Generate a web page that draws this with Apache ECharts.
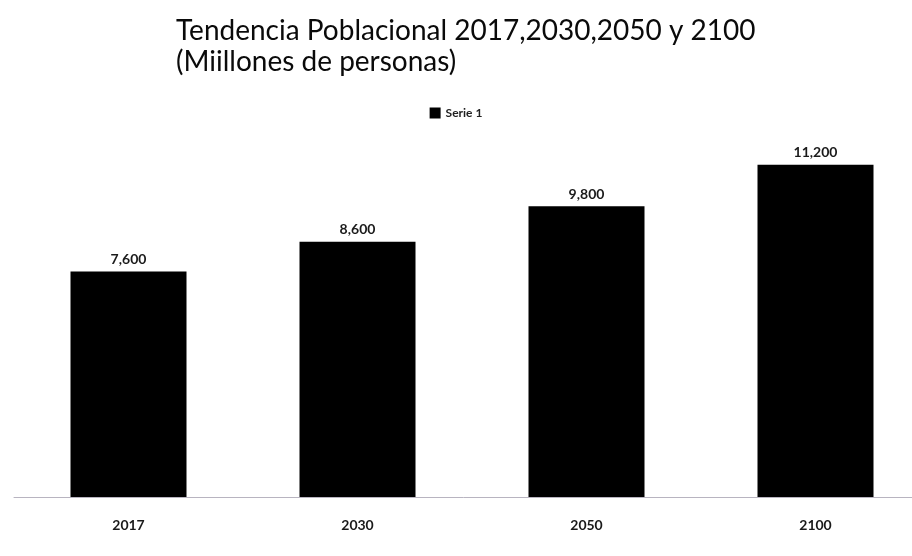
<!DOCTYPE html>
<html>
<head>
<meta charset="utf-8">
<script src="https://cdn.jsdelivr.net/npm/echarts@6/dist/echarts.min.js"></script>
<style>html,body{margin:0;padding:0;background:#fff;}#c{width:912px;height:556px;}</style>
</head>
<body>
<div id="c"></div>
<script>
var categories = ['2017', '2030', '2050', '2100'];
var serie1 = [7600, 8600, 9800, 11200];
var seriesName = 'Serie 1';
var titleText = 'Tendencia Poblacional 2017,2030,2050 y 2100\n(Miillones de personas)';

var chart = echarts.init(document.getElementById('c'));
chart.setOption({
  backgroundColor: '#ffffff',
  animation: false,
  title: {
    text: titleText,
    left: 171,
    top: 10,
    textStyle: { fontFamily: 'Lato', fontSize: 28, fontWeight: 'normal', color: '#0a0a0a', lineHeight: 31 }
  },
  legend: {
    data: [seriesName],
    left: 'center',
    top: 102,
    itemWidth: 11,
    itemHeight: 11,
    itemGap: 4,
    icon: 'rect',
    textStyle: { fontFamily: 'Lato', fontSize: 12, fontWeight: 'bold', color: '#222' }
  },
  grid: { left: 14, width: 916, top: 141, bottom: 59, containLabel: false, outerBoundsMode: 'none' },
  xAxis: {
    type: 'category',
    data: categories,
    axisLine: { lineStyle: { color: '#b8b4c0', width: 1 } },
    axisTick: { show: false },
    axisLabel: { margin: 21, fontFamily: 'Lato', fontSize: 14, fontWeight: 'bold', color: '#1a1a1a' }
  },
  yAxis: {
    type: 'value',
    min: 0,
    max: 12000,
    show: false,
    splitLine: { show: false }
  },
  series: [{
    name: seriesName,
    type: 'bar',
    data: serie1,
    barWidth: 116,
    itemStyle: { color: '#000000' },
    label: {
      show: true,
      position: 'top',
      distance: 5,
      fontFamily: 'Lato',
      fontSize: 14,
      fontWeight: 'bold',
      color: '#1a1a1a',
      formatter: function (p) { return p.value.toLocaleString('en-US'); }
    }
  }]
});
</script>
</body>
</html>
